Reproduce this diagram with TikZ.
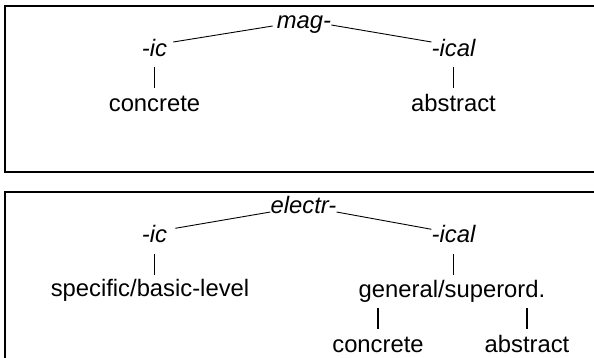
\documentclass[tikz,border=0pt]{standalone}
\usepackage{fontspec}
\setmainfont{Liberation Sans}
\usetikzlibrary{calc}
\begin{document}
\begin{tikzpicture}[x=1pt,y=-1pt,
  lbl/.style={inner sep=0pt, anchor=base, font=\fontsize{23.8}{28}\selectfont},
  morph/.style={inner sep=0pt, anchor=base, font=\fontsize{23.8}{28}\selectfont\itshape},
  frame/.style={draw=black, line width=2pt},
  branch/.style={draw=black, line width=0.9pt},
  bar/.style={draw=black, line width=1.6pt}]
\useasboundingbox (0,0) rectangle (594,358);
\clip (0,0) rectangle (594,358);
\fill[white] (0,0) rectangle (594,358);

% two framed panels, open to the right (and the lower one to the bottom)
\draw[frame] (5,6) rectangle (620,172.5);
\draw[frame] (5,192.3) rectangle (620,390);

% upper tree: mag-
\node[morph] (mag)   at (304,29)   {mag-};
\node[morph] (ic1)   at (154.5,57) {-ic};
\node[morph] (ical1) at (453.5,57) {-ical};
\node[lbl]   (concA) at (154.5,112) {concrete};
\node[lbl]   (abstA) at (453.5,112) {abstract};

\draw[branch] ($(mag.base west)+(-4,-3)$) -- ($(ic1.base east)+(6,-15)$);
\draw[branch] ($(mag.base east)+(0,-4)$) -- ($(ical1.base west)+(0,-15)$);
\draw[bar] ([yshift=-10pt]ic1.base) -- ([yshift=24pt]ic1.base |- concA.base);
\draw[bar] ([yshift=-10pt]ical1.base) -- ([yshift=24pt]ical1.base |- abstA.base);

% lower tree: electr-
\node[morph] (electr) at (303.5,214)  {electr-};
\node[morph] (ic2)    at (154.5,242.3) {-ic};
\node[morph] (ical2)  at (453.5,242.3) {-ical};
\node[lbl]   (spec)   at (150,296)    {specific/basic-level};
\node[lbl]   (gen)    at (452,297)    {general/superord.};
\node[lbl]   (concB)  at (378,352)    {concrete};
\node[lbl]   (abstB)  at (527,352)    {abstract};

\draw[branch] ($(electr.base west)+(0,-2)$) -- ($(ic2.base east)+(8,-14)$);
\draw[branch] ($(electr.base east)+(0,-2)$) -- ($(ical2.base west)+(0,-13)$);
\draw[bar] ([yshift=-12pt]ic2.base) -- ([yshift=21pt]ic2.base |- spec.base);
\draw[bar] ([yshift=-12pt]ical2.base) -- ([yshift=22pt]ical2.base |- gen.base);
\draw[bar] ([yshift=-11pt]concB.base |- gen.base) -- ([yshift=23pt]concB.base);
\draw[bar] ([yshift=-11pt]abstB.base |- gen.base) -- ([yshift=23pt]abstB.base);
\end{tikzpicture}
\end{document}
